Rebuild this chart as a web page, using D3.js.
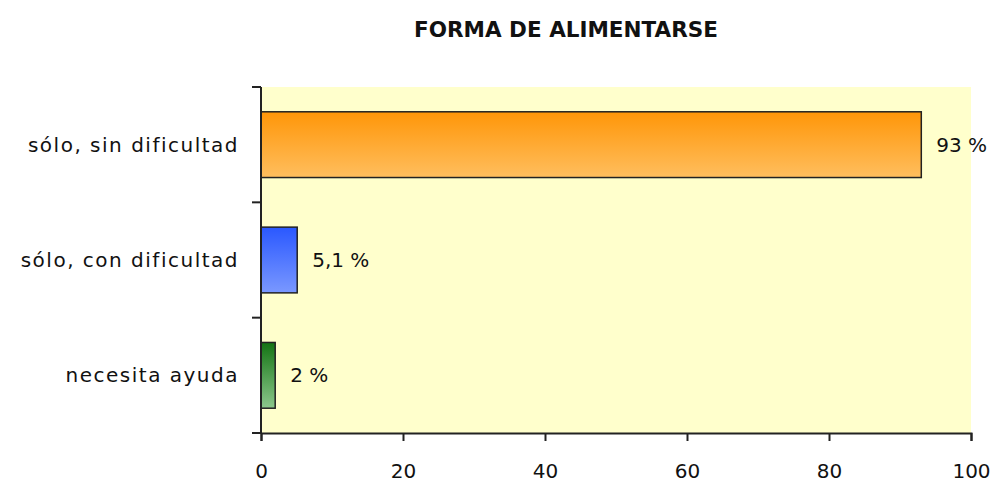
<!DOCTYPE html>
<html>
<head>
<meta charset="utf-8">
<script src="https://cdn.jsdelivr.net/npm/d3@7"></script>
<style>
  body { margin: 0; background: #fff; }
  svg { display: block; }
  text { font-family: "DejaVu Sans", sans-serif; fill: #111; }
</style>
</head>
<body>
<div id="chart"></div>
<script>
const width = 994;
const height = 484;

const title = "FORMA DE ALIMENTARSE";
const categories = ["sólo, sin dificultad", "sólo, con dificultad", "necesita ayuda"];
const values = [93, 5.1, 2];
const valueLabels = ["93 %", "5,1 %", "2 %"];
const xTicks = [0, 20, 40, 60, 80, 100];
const barColors = [
    ["#ff9608", "#ffbe5e"],
    ["#2a58ff", "#7a98ff"],
    ["#137313", "#8cc88c"]
];

const margin = { top: 87, right: 23, bottom: 51, left: 261 };
const innerW = width - margin.left - margin.right;
const innerH = height - margin.top - margin.bottom;

const svg = d3.select("#chart").append("svg")
    .attr("width", width)
    .attr("height", height);

const defs = svg.append("defs");
barColors.forEach((c, i) => {
    const g = defs.append("linearGradient")
        .attr("id", "grad" + i)
        .attr("x1", 0).attr("y1", 0).attr("x2", 0).attr("y2", 1);
    g.append("stop").attr("offset", "0%").attr("stop-color", c[0]);
    g.append("stop").attr("offset", "100%").attr("stop-color", c[1]);
});

svg.append("text")
    .attr("x", 566)
    .attr("y", 37)
    .attr("text-anchor", "middle")
    .style("font-size", "21.5px")
    .style("font-weight", "bold")
    .text(title);

const g = svg.append("g").attr("transform", `translate(${margin.left},${margin.top})`);

const x = d3.scaleLinear().domain([0, 100]).range([0, innerW]);
const y = d3.scaleBand().domain(categories).range([0, innerH]).paddingInner(0.43).paddingOuter(0.215);
const yTicks = d3.scaleBand().domain(categories).range([0, innerH]);

g.append("rect")
    .attr("width", innerW)
    .attr("height", innerH)
    .attr("fill", "#ffffcc");

g.selectAll(".bar")
    .data(values)
    .enter().append("rect")
    .attr("class", "bar")
    .attr("x", 0)
    .attr("y", (d, i) => y(categories[i]))
    .attr("width", d => x(d))
    .attr("height", y.bandwidth())
    .attr("fill", (d, i) => `url(#grad${i})`)
    .attr("stroke", "#222")
    .attr("stroke-width", 1.5);

g.selectAll(".vlabel")
    .data(values)
    .enter().append("text")
    .attr("class", "vlabel")
    .attr("x", d => x(d) + 15)
    .attr("y", (d, i) => yTicks(categories[i]) + yTicks.bandwidth() / 2)
    .attr("dy", "0.35em")
    .style("font-size", "20px")
    .text((d, i) => valueLabels[i]);

// y axis: line plus tick marks at band boundaries
const yAxis = g.append("g");
yAxis.append("line")
    .attr("x1", 0).attr("x2", 0)
    .attr("y1", 0).attr("y2", innerH)
    .attr("stroke", "#222").attr("stroke-width", 2);
yAxis.selectAll(".ytick")
    .data(d3.range(categories.length + 1))
    .enter().append("line")
    .attr("x1", -9).attr("x2", 0)
    .attr("y1", i => i * yTicks.step())
    .attr("y2", i => i * yTicks.step())
    .attr("stroke", "#222").attr("stroke-width", 2);
yAxis.selectAll(".ylabel")
    .data(categories)
    .enter().append("text")
    .attr("x", -22)
    .attr("y", d => yTicks(d) + yTicks.bandwidth() / 2)
    .attr("dy", "0.35em")
    .attr("text-anchor", "end")
    .style("font-size", "20px")
    .style("letter-spacing", "1.5px")
    .text(d => d);

// x axis
const xAxis = g.append("g")
    .attr("transform", `translate(0,${innerH})`)
    .call(d3.axisBottom(x).tickValues(xTicks).tickSize(8).tickPadding(23));
xAxis.select(".domain").attr("stroke", "#222").attr("stroke-width", 2);
xAxis.selectAll(".tick line").attr("stroke", "#222").attr("stroke-width", 2);
xAxis.selectAll(".tick text")
    .style("font-family", "DejaVu Sans, sans-serif")
    .style("font-size", "20px")
    .attr("fill", "#111");
</script>
</body>
</html>
